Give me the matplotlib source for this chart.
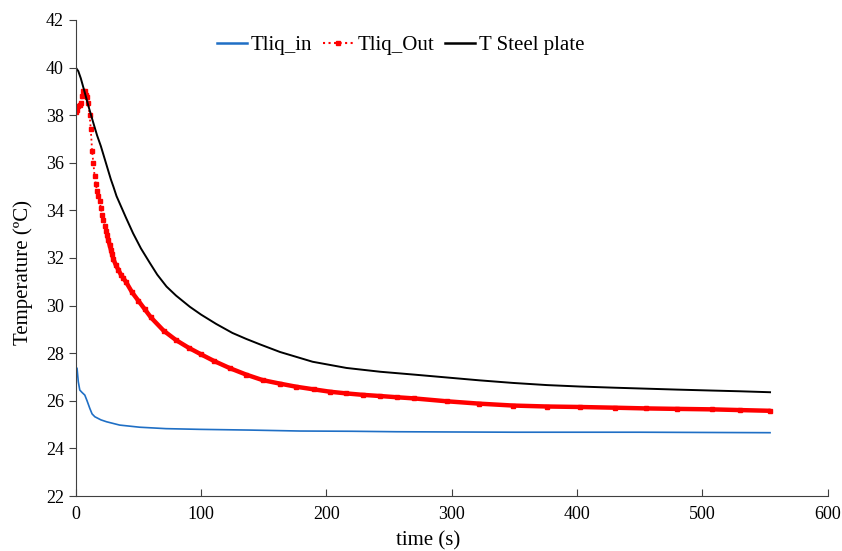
import matplotlib.pyplot as plt
from matplotlib.lines import Line2D

plt.rcParams['font.family'] = ['Liberation Serif', 'DejaVu Serif']

# Tliq_in (blue)
t_in = [0, 1, 2, 3.2, 5, 7.2, 9, 11.2, 13, 15.2, 20, 24.5, 35, 51, 72, 99, 139,
        179, 220, 256, 300, 350, 400, 450, 500, 554]
T_in = [27.4, 27.37, 26.8, 26.45, 26.35, 26.24, 26.0, 25.68, 25.45, 25.33, 25.2,
        25.12, 24.98, 24.89, 24.83, 24.80, 24.77, 24.73, 24.72, 24.70, 24.69,
        24.68, 24.68, 24.68, 24.67, 24.66]

# Tliq_Out (red)
t_out = [0, 1, 2, 3, 4, 5, 6, 7, 8, 9, 10, 11, 12, 13, 14, 15, 16, 17, 18, 19, 20,
         21, 22, 23, 24, 25, 26, 27, 28, 29, 30, 32, 34, 36, 38, 40, 45, 50, 55,
         60, 70, 80, 90, 100, 110, 123, 136, 149, 163, 176, 190, 203, 216, 229,
         243, 256, 270, 296, 322, 349, 376, 402, 430, 455, 480, 508, 530, 554]
T_out = [38.15, 38.2, 38.4, 38.43, 38.5, 38.8, 39.0, 39.0, 38.85, 38.75, 38.5,
         38.0, 37.4, 36.5, 36.0, 35.45, 35.1, 34.8, 34.6, 34.4, 34.1, 33.8, 33.6,
         33.35, 33.15, 32.95, 32.75, 32.55, 32.35, 32.15, 31.95, 31.7, 31.5, 31.3,
         31.15, 31.0, 30.55, 30.2, 29.85, 29.5, 28.95, 28.55, 28.23, 27.95, 27.68,
         27.37, 27.1, 26.87, 26.72, 26.59, 26.48, 26.38, 26.31, 26.25, 26.2, 26.15,
         26.1, 25.98, 25.88, 25.8, 25.76, 25.74, 25.71, 25.68, 25.66, 25.64, 25.61,
         25.58]

# T Steel plate (black)
t_st = [0, 2, 4, 6.6, 10, 13.3, 17, 20, 22, 24, 26, 28, 30, 32.5, 35, 40, 45.7,
        52, 59, 65, 72.4, 80, 91, 100, 112, 125, 136, 147, 163, 189, 216, 243,
        270, 296, 322, 349, 376, 402, 430, 455, 480, 508, 530, 554]
T_st = [40.0, 39.85, 39.55, 39.06, 38.4, 37.8, 37.15, 36.7, 36.35, 36.0, 35.65,
        35.3, 35.0, 34.6, 34.3, 33.7, 33.04, 32.4, 31.8, 31.3, 30.8, 30.42, 29.95,
        29.62, 29.23, 28.85, 28.6, 28.37, 28.05, 27.64, 27.38, 27.22, 27.1, 26.98,
        26.86, 26.75, 26.66, 26.6, 26.55, 26.51, 26.47, 26.43, 26.4, 26.36]

fig = plt.figure(figsize=(8.42, 5.51), dpi=100)
ax = fig.add_axes([0.090, 0.0998, 0.893, 0.864])

ax.plot(t_in, T_in, color='#1f6fc5', lw=1.2)
# the dense markers of the original merge into a band after ~25 s
late = [i for i, t in enumerate(t_out) if t >= 25]
ax.plot([t_out[i] for i in late], [T_out[i] for i in late], color='#ff0000',
        lw=3.2, solid_capstyle='round')
ax.plot(t_out, T_out, color='#ff0000', ls=':', lw=1.3, marker='s', ms=3.3,
        mec='#ff0000')
ax.plot(t_st, T_st, color='black', lw=1.4)

ax.set_xlim(0, 600)
ax.set_ylim(22, 42)
ax.set_xticks(range(0, 601, 100))
ax.set_yticks(range(22, 43, 2))
ax.tick_params(axis='x', direction='in', length=5, labelsize=13, pad=7, color='#404040')
ax.tick_params(axis='y', direction='out', length=5, labelsize=13, color='#404040')
for s in ['top', 'right']:
    ax.spines[s].set_visible(False)
for s in ['left', 'bottom']:
    ax.spines[s].set_color('#404040')

ax.set_xlabel('time (s)', fontsize=15, labelpad=0)
ax.xaxis.set_label_coords(0.468, -0.075)
ax.set_ylabel('Temperature (ºC)', fontsize=15)
ax.yaxis.set_label_coords(-0.057, 0.47)

handles = [Line2D([], [], color='#1f6fc5', lw=1.8),
           Line2D([], [], color='#ff0000', ls=':', lw=1.5, marker='s', ms=3.5),
           Line2D([], [], color='black', lw=1.8)]
ax.legend(handles, ['Tliq_in', 'Tliq_Out', 'T Steel plate'], ncol=3, frameon=False,
          loc='center', bbox_to_anchor=(0.432, 0.947), fontsize=15,
          handlelength=1.45, handletextpad=0.2, columnspacing=0.5,
          borderpad=0, borderaxespad=0)

fig.savefig('out.png', dpi=100)
